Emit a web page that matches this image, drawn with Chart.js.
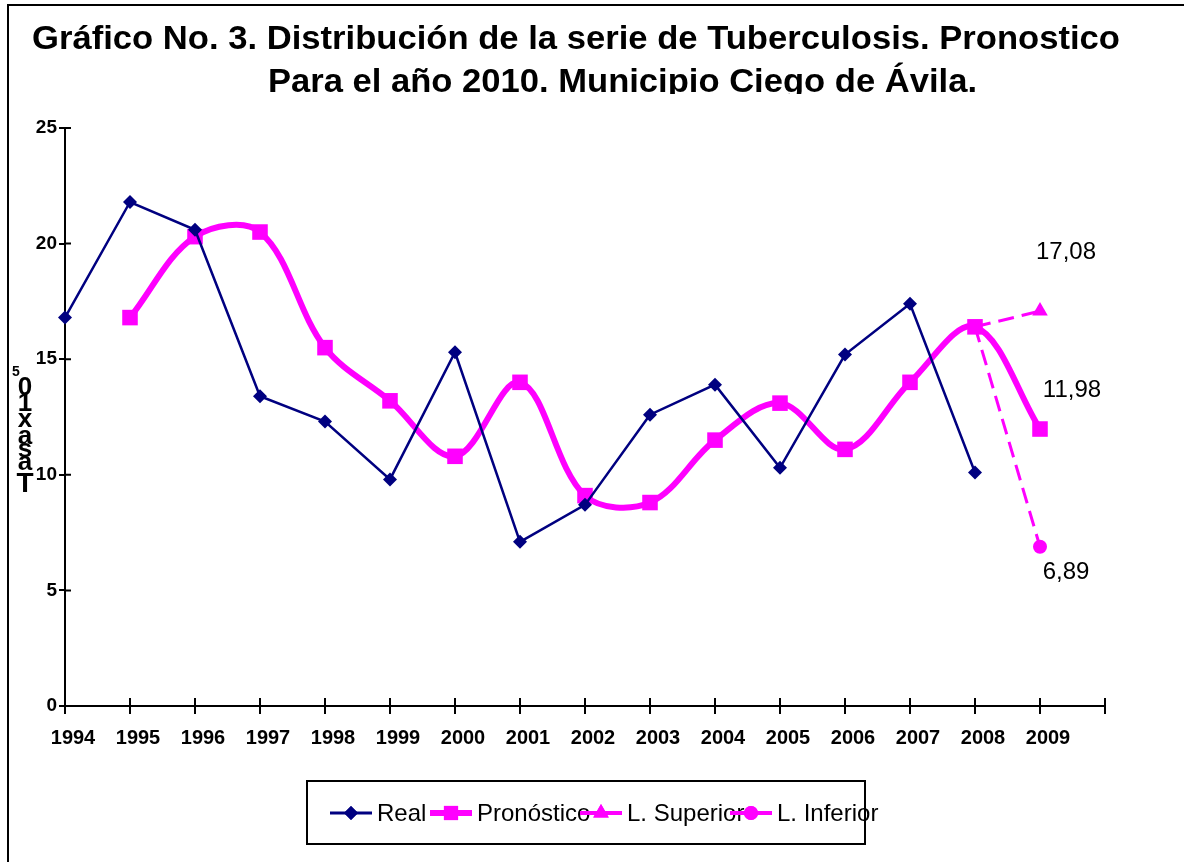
<!DOCTYPE html>
<html lang="es">
<head>
<meta charset="utf-8">
<title>Tuberculosis - Pronóstico 2010</title>
<script src="https://cdn.jsdelivr.net/npm/chart.js@4.4.0/dist/chart.umd.min.js"></script>
<style>
  html, body { margin: 0; padding: 0; background: #fff; }
  #grafico { display: block; }
</style>
</head>
<body>
<canvas id="grafico" width="1184" height="862"></canvas>
<script>
// Datos (tasa por 10^5 habitantes)
const anios = ['1994', '1995', '1996', '1997', '1998', '1999', '2000', '2001', '2002',
               '2003', '2004', '2005', '2006', '2007', '2008', '2009', ''];
const tasaReal = [16.8, 21.8, 20.6, 13.4, 12.3, 9.8, 15.3, 7.1, 8.7, 12.6, 13.9, 10.3, 15.2, 17.4, 10.1, null];
const tasaPronostico = [null, 16.8, 20.3, 20.5, 15.5, 13.2, 10.8, 14.0, 9.1, 8.8, 11.5, 13.1, 11.1, 14.0, 16.4, 11.98];
const limiteSuperior = [null, null, null, null, null, null, null, null, null, null, null, null, null, null, 16.4, 17.08];
const limiteInferior = [null, null, null, null, null, null, null, null, null, null, null, null, null, null, 16.4, 6.89];
const ticksY = [0, 5, 10, 15, 20, 25];

const tituloLineas = [
    'Gráfico No. 3. Distribución de la serie de Tuberculosis. Pronostico',
    'Para el año 2010. Municipio Ciego de Ávila.'
];

const AZUL = '#000080';
const MAGENTA = '#FF00FF';
const FUENTE = '"Liberation Sans", Arial, sans-serif';

/**
 * Escribe un texto ajustado a un ancho dado (el original usa letra estrecha)
 */
function textoAjustado(ctx, texto, x, y, ancho) {
    const medido = ctx.measureText(texto).width;
    ctx.save();
    ctx.translate(x, y);
    ctx.scale(ancho / medido, 1);
    ctx.fillText(texto, 0, 0);
    ctx.restore();
}

// Fondo, marco, título y rótulo del eje Y
const marcoPlugin = {
    id: 'marco',
    beforeDraw(chart) {
        const ctx = chart.ctx;
        ctx.save();
        ctx.fillStyle = '#fff';
        ctx.fillRect(0, 0, chart.width, chart.height);
        ctx.strokeStyle = '#000';
        ctx.lineWidth = 2;
        ctx.strokeRect(8, 5, chart.width + 20, chart.height + 20);

        // título (la segunda línea aparece recortada por abajo)
        ctx.save();
        ctx.beginPath();
        ctx.rect(0, 0, chart.width, 94);
        ctx.clip();
        ctx.fillStyle = '#000';
        ctx.font = 'bold 34px ' + FUENTE;
        ctx.textBaseline = 'alphabetic';
        textoAjustado(ctx, tituloLineas[0], 32, 49, 1088);
        textoAjustado(ctx, tituloLineas[1], 268, 92, 709);
        ctx.restore();

        // rótulo "Tasa x 10^5" con letras apiladas
        const letras = [['5', 372, 14], ['0', 388, 26], ['1', 404, 26], ['x', 420, 26],
                        ['a', 437, 26], ['s', 450, 26], ['a', 463, 26], ['T', 484, 28]];
        ctx.fillStyle = '#000';
        ctx.textAlign = 'center';
        ctx.textBaseline = 'middle';
        letras.forEach(([c, y, t]) => {
            ctx.font = 'bold ' + t + 'px ' + FUENTE;
            ctx.fillText(c, c === '5' ? 16 : 25, y);
        });
        ctx.restore();
    }
};

// Marcas de los ejes que cruzan la línea (hacia dentro)
const marcasPlugin = {
    id: 'marcas',
    afterDraw(chart) {
        const ctx = chart.ctx;
        const a = chart.chartArea;
        ctx.save();
        ctx.strokeStyle = '#000';
        ctx.lineWidth = 2;
        ctx.beginPath();
        chart.scales.x.ticks.forEach((t, i) => {
            const px = chart.scales.x.getPixelForTick(i);
            ctx.moveTo(px, a.bottom);
            ctx.lineTo(px, a.bottom - 8);
        });
        chart.scales.y.ticks.forEach((t, i) => {
            const py = chart.scales.y.getPixelForTick(i);
            ctx.moveTo(a.left, py);
            ctx.lineTo(a.left + 6, py);
        });
        ctx.stroke();
        ctx.restore();
    }
};

// Etiquetas de los valores de 2009
const etiquetasPlugin = {
    id: 'etiquetas',
    afterDatasetsDraw(chart) {
        const ctx = chart.ctx;
        const desplaz = { 1: [32, -39], 2: [26, -59], 3: [26, 26] };
        ctx.save();
        ctx.fillStyle = '#000';
        ctx.font = '24px ' + FUENTE;
        ctx.textAlign = 'center';
        ctx.textBaseline = 'middle';
        Object.keys(desplaz).forEach(k => {
            const ds = chart.data.datasets[k];
            const i = ds.data.length - 1;
            const el = chart.getDatasetMeta(k).data[i];
            const texto = ds.data[i].toFixed(2).replace('.', ',');
            ctx.fillText(texto, el.x + desplaz[k][0], el.y + desplaz[k][1]);
        });
        ctx.restore();
    }
};

// Leyenda dibujada a mano como en el original
const leyendaPlugin = {
    id: 'leyenda',
    afterDraw(chart) {
        const ctx = chart.ctx;
        const inicios = [330, 430, 580, 730];
        const anchoLinea = [3, 6, 4, 4];
        const radios = [7, 10, 9, 7];
        const y = 813;
        ctx.save();
        ctx.strokeStyle = '#000';
        ctx.lineWidth = 2;
        ctx.strokeRect(307, 781, 558, 63);
        chart.data.datasets.forEach((ds, i) => {
            const x0 = inicios[i];
            ctx.strokeStyle = ds.borderColor;
            ctx.lineWidth = anchoLinea[i];
            ctx.beginPath();
            ctx.moveTo(x0, y);
            ctx.lineTo(x0 + 42, y);
            ctx.stroke();
            ctx.fillStyle = ds.borderColor;
            Chart.helpers.drawPoint(ctx, {
                pointStyle: ds.pointStyle, radius: radios[i], rotation: 0, borderWidth: 0
            }, x0 + 21, y);
            ctx.fill();
            ctx.fillStyle = '#000';
            ctx.font = '24px ' + FUENTE;
            ctx.textBaseline = 'alphabetic';
            ctx.fillText(ds.label, x0 + 47, y + 8);
        });
        ctx.restore();
    }
};

new Chart(document.getElementById('grafico'), {
    type: 'line',
    data: {
        labels: anios,
        datasets: [
            {
                label: 'Real',
                data: tasaReal,
                borderColor: AZUL,
                backgroundColor: AZUL,
                borderWidth: 2.5,
                pointStyle: 'rectRot',
                pointRadius: 7,
                pointBorderWidth: 0,
                tension: 0
            },
            {
                label: 'Pronóstico',
                data: tasaPronostico,
                borderColor: MAGENTA,
                backgroundColor: MAGENTA,
                borderWidth: 6,
                pointStyle: 'rect',
                pointRadius: 11,
                pointBorderWidth: 0,
                tension: 0.35
            },
            {
                label: 'L. Superior',
                data: limiteSuperior,
                borderColor: MAGENTA,
                backgroundColor: MAGENTA,
                borderWidth: 3,
                borderDash: [16, 8],
                pointStyle: 'triangle',
                pointRadius: [0, 0, 0, 0, 0, 0, 0, 0, 0, 0, 0, 0, 0, 0, 0, 9],
                pointBorderWidth: 0,
                tension: 0
            },
            {
                label: 'L. Inferior',
                data: limiteInferior,
                borderColor: MAGENTA,
                backgroundColor: MAGENTA,
                borderWidth: 3,
                borderDash: [16, 8],
                pointStyle: 'circle',
                pointRadius: [0, 0, 0, 0, 0, 0, 0, 0, 0, 0, 0, 0, 0, 0, 0, 7],
                pointBorderWidth: 0,
                tension: 0
            }
        ]
    },
    options: {
        responsive: false,
        animation: false,
        devicePixelRatio: 1,
        layout: { padding: { top: 128, right: 79, bottom: 106, left: 0 } },
        plugins: {
            legend: { display: false },
            title: { display: false },
            tooltip: { enabled: false }
        },
        scales: {
            x: {
                offset: false,
                afterFit(scale) { scale.height = 50; },
                border: { display: true, color: '#000', width: 2 },
                grid: { drawOnChartArea: false, drawTicks: true, tickLength: 8, color: '#000', lineWidth: 2 },
                ticks: {
                    color: '#000',
                    font: { family: FUENTE, size: 20, weight: 'bold' },
                    padding: 12,
                    labelOffset: 8,
                    maxRotation: 0,
                    autoSkip: false
                }
            },
            y: {
                min: 0,
                max: 25,
                afterFit(scale) { scale.width = 65; },
                afterBuildTicks(scale) { scale.ticks = ticksY.map(v => ({ value: v })); },
                border: { display: true, color: '#000', width: 2 },
                grid: { drawOnChartArea: false, drawTicks: true, tickLength: 6, color: '#000', lineWidth: 2 },
                ticks: {
                    color: '#000',
                    font: { family: FUENTE, size: 19, weight: 'bold' },
                    padding: 2
                }
            }
        }
    },
    plugins: [marcoPlugin, marcasPlugin, etiquetasPlugin, leyendaPlugin]
});
</script>
</body>
</html>
